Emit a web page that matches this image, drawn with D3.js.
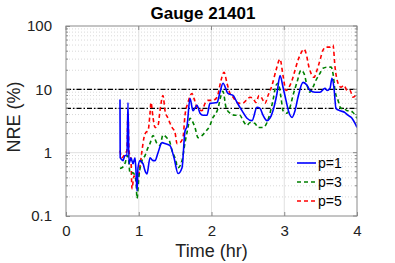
<!DOCTYPE html>
<html>
<head>
<meta charset="utf-8">
<script src="https://cdn.jsdelivr.net/npm/d3@7"></script>
<style>
body { margin: 0; background: #fff; }
text { font-family: "Liberation Sans", Arial, sans-serif; }
</style>
</head>
<body>
<svg width="395" height="263"></svg>
<script>
// NRE vs time for gauge 21401, three p values

var xTicks = [0, 1, 2, 3, 4];
var yTicks = [0.1, 1, 10, 100];
var yTickLabels = ["0.1", "1", "10", "100"];
var refLevels = [10, 5];

var seriesNames = ["p=1", "p=3", "p=5"];

var p1 = [[0.742,6.9],[0.745,0.83],[0.756,0.80],[0.784,0.75],[0.811,0.90],[0.838,0.90],[0.852,6.2],[0.866,0.67],
	[0.893,0.83],[0.921,0.67],[0.948,0.83],[0.962,0.52],[0.976,0.25],[0.990,0.58],[1.017,0.75],[1.058,0.67],
	[1.086,0.52],[1.113,0.46],[1.155,0.83],[1.196,0.75],[1.223,0.75],[1.265,1.0],[1.320,1.44],[1.361,1.39],
	[1.430,1.29],[1.485,0.83],[1.540,0.47],[1.595,0.58],[1.636,2.2],[1.663,2.6],[1.704,7.2],[1.746,4.6],
	[1.801,5.6],[1.842,4.2],[1.883,3.9],[1.938,3.9],[1.979,6.0],[2.076,6.2],[2.117,9.0],[2.158,12.5],
	[2.227,8.6],[2.296,8.0],[2.351,6.2],[2.419,4.6],[2.488,3.5],[2.557,3.2],[2.625,5.2],[2.667,5.0],
	[2.708,3.9],[2.763,3.2],[2.804,3.5],[2.845,4.6],[2.900,8.6],[2.942,16.5],[2.983,10.8],[3.024,6.7],
	[3.065,4.3],[3.107,3.6],[3.148,4.6],[3.189,7.5],[3.258,12.9],[3.313,11.6],[3.354,9.6],[3.423,9.0],
	[3.491,9.0],[3.560,10.4],[3.588,9.6],[3.629,10.4],[3.656,15.0],[3.684,10.4],[3.711,5.0],[3.766,4.6],
	[3.835,4.3],[3.876,3.9],[3.931,3.5],[3.973,2.9],[4.0,2.5]];

var p3 = [[0.742,0.56],[0.797,0.62],[0.852,0.90],[0.880,0.48],[0.921,0.48],[0.962,0.36],[0.976,0.19],[1.003,0.43],
	[1.045,0.75],[1.086,0.90],[1.127,1.20],[1.155,1.40],[1.196,1.86],[1.251,1.39],[1.292,1.3],[1.333,1.9],
	[1.388,1.7],[1.430,1.44],[1.457,1.08],[1.498,0.83],[1.540,0.58],[1.595,0.75],[1.636,1.44],[1.677,2.5],
	[1.704,3.5],[1.732,3.2],[1.773,2.5],[1.814,1.73],[1.869,1.86],[1.911,2.1],[1.979,2.7],[2.021,3.6],
	[2.062,4.2],[2.089,5.0],[2.131,8.0],[2.158,9.3],[2.199,5.2],[2.254,4.2],[2.323,3.9],[2.392,3.9],
	[2.433,3.2],[2.488,2.7],[2.529,3.0],[2.598,2.9],[2.639,2.5],[2.708,2.5],[2.763,3.0],[2.804,4.2],
	[2.845,6.7],[2.887,11.6],[2.914,12.5],[2.955,7.5],[2.983,4.6],[3.038,4.2],[3.079,5.2],[3.120,8.0],
	[3.175,12.9],[3.230,20.0],[3.271,17.9],[3.313,11.6],[3.354,9.0],[3.395,10.8],[3.436,13.9],[3.491,17.9],
	[3.533,21.5],[3.588,22.4],[3.643,22.4],[3.670,17.9],[3.698,9.6],[3.739,6.7],[3.780,5.0],[3.821,5.0],
	[3.863,4.6],[3.904,4.6],[3.945,4.3],[4.0,3.5]];

var p5 = [[0.742,1.08],[0.770,0.83],[0.811,0.96],[0.838,1.08],[0.852,4.2],[0.866,1.08],[0.893,0.75],[0.907,0.27],
	[0.935,0.43],[0.962,0.36],[0.990,0.39],[1.017,0.62],[1.045,1.08],[1.072,1.73],[1.100,2.1],[1.127,2.2],
	[1.155,4.2],[1.168,6.2],[1.196,3.6],[1.223,2.5],[1.265,2.7],[1.292,4.6],[1.333,8.0],[1.361,4.6],
	[1.402,3.5],[1.457,2.5],[1.498,2.1],[1.526,1.39],[1.567,1.44],[1.608,1.73],[1.636,3.9],[1.677,6.2],
	[1.732,8.6],[1.759,7.2],[1.801,5.2],[1.869,4.6],[1.911,6.0],[1.952,6.7],[2.021,6.7],[2.076,7.5],
	[2.131,13.9],[2.172,18.6],[2.213,12.5],[2.254,8.6],[2.296,7.5],[2.351,6.2],[2.392,6.0],[2.447,6.2],
	[2.502,7.2],[2.529,7.5],[2.570,7.2],[2.612,6.2],[2.653,8.0],[2.694,7.2],[2.735,6.0],[2.777,8.0],
	[2.832,11.6],[2.887,20.0],[2.942,30.0],[2.983,16.6],[3.024,9.6],[3.065,10.8],[3.107,13.9],[3.148,20.0],
	[3.189,28.8],[3.230,37.3],[3.271,43.1],[3.299,37.3],[3.340,22.4],[3.368,17.9],[3.409,15.5],[3.450,20.0],
	[3.491,28.8],[3.533,41.6],[3.574,46.4],[3.629,46.4],[3.670,49.9],[3.698,22.4],[3.739,12.5],[3.780,10.8],
	[3.821,11.6],[3.863,9.6],[3.904,9.6],[3.945,7.5],[4.0,8.6]];

var seriesData = [p1, p3, p5];
var seriesColors = ["#0000ff", "#008000", "#ff0000"];
var seriesDash = [null, "4,3", "4,3"];

var margin = {top: 26, right: 38, bottom: 47, left: 66};
var svg = d3.select("svg");
var width = +svg.attr("width") - margin.left - margin.right;
var height = +svg.attr("height") - margin.top - margin.bottom;

var x = d3.scaleLinear().domain([0, 4]).range([0, width]);
var y = d3.scaleLog().domain([0.1, 100]).range([height, 0]);

var g = svg.append("g").attr("transform", "translate(" + margin.left + "," + margin.top + ")");

// minor y grid (dotted)
var minor = [];
[0.1, 1, 10].forEach(d => { for (var k = 2; k <= 9; k++) minor.push(d * k); });

g.append("g").selectAll("line").data(minor).enter().append("line")
	.attr("x1", 0).attr("x2", width)
	.attr("y1", d => y(d)).attr("y2", d => y(d))
	.attr("stroke", "#c8c8c8").attr("stroke-width", 0.7).attr("stroke-dasharray", "1,2");

// major grid
g.append("g").selectAll("line").data(yTicks.slice(1, -1)).enter().append("line")
	.attr("x1", 0).attr("x2", width)
	.attr("y1", d => y(d)).attr("y2", d => y(d))
	.attr("stroke", "#e0e0e0").attr("stroke-width", 1);
g.append("g").selectAll("line").data(xTicks.slice(1, -1)).enter().append("line")
	.attr("y1", 0).attr("y2", height)
	.attr("x1", d => x(d)).attr("x2", d => x(d))
	.attr("stroke", "#e0e0e0").attr("stroke-width", 1);

// reference levels
g.append("g").selectAll("line").data(refLevels).enter().append("line")
	.attr("x1", 0).attr("x2", width)
	.attr("y1", d => y(d)).attr("y2", d => y(d))
	.attr("stroke", "#000").attr("stroke-width", 1.2).attr("stroke-dasharray", "5,2,1.5,2");

svg.append("clipPath").attr("id", "clip").append("rect")
	.attr("width", width).attr("height", height);

var line = d3.line().curve(d3.curveMonotoneX).x(d => x(d[0])).y(d => y(d[1]));

g.append("g").attr("clip-path", "url(#clip)")
	.selectAll("path").data([2, 1, 0]).enter().append("path")
	.attr("d", i => line(seriesData[i]))
	.attr("fill", "none")
	.attr("stroke", i => seriesColors[i])
	.attr("stroke-width", 1.6)
	.attr("stroke-dasharray", i => seriesDash[i]);

// axes box and inward ticks
var axisColor = "#8a8a8a";
g.append("rect").attr("width", width).attr("height", height)
	.attr("fill", "none").attr("stroke", axisColor).attr("stroke-width", 1);

var xAxis = d3.axisBottom(x).tickValues(xTicks).tickSize(-4).tickPadding(9).tickFormat(d3.format("d"));
var xg = g.append("g").attr("transform", "translate(0," + height + ")").call(xAxis);
xg.select(".domain").remove();

var yAxis = d3.axisLeft(y).tickValues(yTicks).tickSize(-4).tickPadding(14)
	.tickFormat((d, i) => yTickLabels[i]);
var yg = g.append("g").call(yAxis);
yg.select(".domain").remove();

[xg, yg].forEach(a => {
	a.selectAll("line").attr("stroke", axisColor);
	a.selectAll("text").attr("fill", "#222").style("font-size", "15px")
		.style("font-family", "'Liberation Sans', Arial, sans-serif");
});

// minor ticks on both y sides, top ticks
g.append("g").selectAll("line").data(minor).enter().append("line")
	.attr("x1", 0).attr("x2", 2).attr("y1", d => y(d)).attr("y2", d => y(d)).attr("stroke", axisColor);
g.append("g").selectAll("line").data(minor).enter().append("line")
	.attr("x1", width).attr("x2", width - 2).attr("y1", d => y(d)).attr("y2", d => y(d)).attr("stroke", axisColor);
g.append("g").selectAll("line").data(yTicks).enter().append("line")
	.attr("x1", width).attr("x2", width - 4).attr("y1", d => y(d)).attr("y2", d => y(d)).attr("stroke", axisColor);
g.append("g").selectAll("line").data(xTicks).enter().append("line")
	.attr("y1", 0).attr("y2", 4).attr("x1", d => x(d)).attr("x2", d => x(d)).attr("stroke", axisColor);

// labels
svg.append("text").attr("x", 203).attr("y", 19).attr("text-anchor", "middle")
	.style("font-size", "17px").style("font-weight", "bold").attr("fill", "#000")
	.text("Gauge 21401");
svg.append("text").attr("x", margin.left + width / 2).attr("y", 257).attr("text-anchor", "middle")
	.style("font-size", "18px").attr("fill", "#222").text("Time (hr)");
svg.append("text").attr("transform", "translate(20," + (margin.top + height / 2 - 4) + ") rotate(-90)")
	.attr("text-anchor", "middle").style("font-size", "18px").attr("fill", "#222").text("NRE (%)");

// legend
var legend = g.append("g").attr("transform", "translate(" + (width - 60) + "," + (height - 53) + ")");
seriesNames.forEach((name, i) => {
	var row = legend.append("g").attr("transform", "translate(0," + (i * 19) + ")");
	row.append("line").attr("x1", 0).attr("x2", 19).attr("y1", 0).attr("y2", 0)
		.attr("stroke", seriesColors[i]).attr("stroke-width", 1.6)
		.attr("stroke-dasharray", seriesDash[i]);
	row.append("text").attr("x", 21).attr("y", 5).style("font-size", "14px").attr("fill", "#000").text(name);
});
</script>
</body>
</html>
